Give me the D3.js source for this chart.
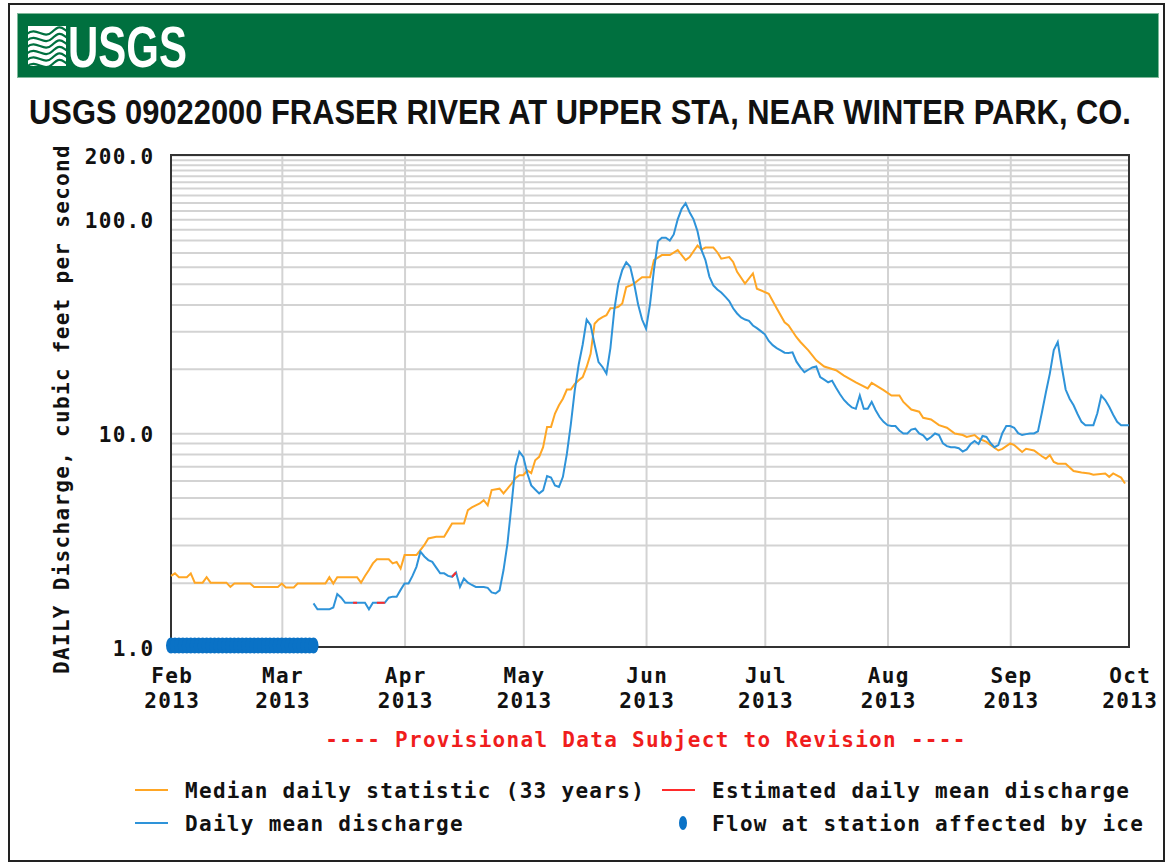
<!DOCTYPE html>
<html><head><meta charset="utf-8">
<script src="https://cdn.jsdelivr.net/npm/d3@7"></script>
<style>
html,body{margin:0;padding:0;background:#fff;}
svg{display:block;}
.mono{font-family:"DejaVu Sans Mono","Liberation Mono",monospace;font-weight:bold;font-size:21px;letter-spacing:1.3px;}
</style></head><body>
<svg id="chart" width="1166" height="865"></svg>
<script>
// ---------------- DATA ----------------
const titleText = "USGS 09022000 FRASER RIVER AT UPPER STA, NEAR WINTER PARK, CO.";
const yAxisTitle = "DAILY Discharge, cubic feet per second";
const provisionalText = "---- Provisional Data Subject to Revision ----";
const yTickValues = [1, 10, 100, 200];
const yGridValues = [2,3,4,5,6,7,8,9,10,20,30,40,50,60,70,80,90,100,110,120,130,140,150,160,170,180,190,200];
const monthTicks = ["2013-02-01","2013-03-01","2013-04-01","2013-05-01","2013-06-01","2013-07-01","2013-08-01","2013-09-01","2013-10-01"];
const monthNames = ["Feb","Mar","Apr","May","Jun","Jul","Aug","Sep","Oct"];
const tickYear = "2013";

// Median daily statistic (33 years)
const medianDaily = [
["2013-02-01",2.15],["2013-02-02",2.21],["2013-02-03",2.12],["2013-02-05",2.12],["2013-02-06",2.21],
["2013-02-07",2.0],["2013-02-09",2.0],["2013-02-10",2.12],["2013-02-11",2.0],["2013-02-15",2.0],
["2013-02-16",1.91],["2013-02-17",1.98],["2013-02-21",1.98],["2013-02-22",1.91],["2013-02-28",1.91],
["2013-03-01",1.98],["2013-03-02",1.90],["2013-03-04",1.90],["2013-03-05",1.98],["2013-03-12",1.98],
["2013-03-13",2.12],["2013-03-14",1.98],["2013-03-15",2.12],["2013-03-20",2.12],["2013-03-21",2.0],
["2013-03-22",2.15],["2013-03-23",2.29],["2013-03-24",2.46],["2013-03-25",2.57],["2013-03-28",2.57],
["2013-03-29",2.46],["2013-03-30",2.5],["2013-03-31",2.33],["2013-04-01",2.69],["2013-04-04",2.69],
["2013-04-05",2.84],["2013-04-06",3.0],["2013-04-07",3.22],["2013-04-09",3.28],["2013-04-11",3.28],
["2013-04-12",3.52],["2013-04-13",3.78],["2013-04-16",3.78],["2013-04-17",4.37],["2013-04-18",4.5],
["2013-04-20",4.69],["2013-04-21",4.86],["2013-04-22",4.6],["2013-04-23",5.42],["2013-04-25",5.5],
["2013-04-26",5.23],["2013-04-27",5.5],["2013-04-28",5.8],["2013-04-29",6.15],["2013-04-30",6.36],
["2013-05-01",6.36],["2013-05-02",6.7],["2013-05-03",6.5],["2013-05-04",7.47],["2013-05-05",7.75],
["2013-05-06",8.6],["2013-05-07",10.7],["2013-05-08",10.7],["2013-05-09",12.35],["2013-05-10",13.5],
["2013-05-11",14.5],["2013-05-12",16.0],["2013-05-13",16.0],["2013-05-14",17.0],["2013-05-15",17.7],
["2013-05-16",18.3],["2013-05-17",20.4],["2013-05-18",23.5],["2013-05-19",32.5],["2013-05-20",34.0],
["2013-05-21",34.9],["2013-05-22",35.6],["2013-05-23",38.4],["2013-05-24",38.5],["2013-05-25",39.0],
["2013-05-26",40.4],["2013-05-27",48.3],["2013-05-28",49.0],["2013-05-29",50.1],["2013-05-30",51.9],
["2013-05-31",53.6],["2013-06-02",53.6],["2013-06-03",64.5],["2013-06-05",68.1],["2013-06-07",68.1],
["2013-06-09",71.8],["2013-06-11",64.5],["2013-06-12",66.6],["2013-06-14",75.5],["2013-06-15",72.2],
["2013-06-16",73.8],["2013-06-18",73.8],["2013-06-19",70.2],["2013-06-20",65.5],["2013-06-22",66.6],
["2013-06-23",63.2],["2013-06-24",56.8],["2013-06-26",50.1],["2013-06-28",55.9],["2013-06-29",47.4],
["2013-07-02",44.9],["2013-07-04",38.4],["2013-07-06",33.0],["2013-07-07",31.9],["2013-07-09",28.1],
["2013-07-10",26.7],["2013-07-12",24.4],["2013-07-14",21.9],["2013-07-16",20.5],["2013-07-19",19.7],
["2013-07-21",18.6],["2013-07-24",17.3],["2013-07-27",16.2],["2013-07-28",17.2],["2013-07-31",15.9],
["2013-08-02",15.0],["2013-08-04",15.0],["2013-08-05",14.0],["2013-08-07",12.9],["2013-08-09",12.6],
["2013-08-10",11.8],["2013-08-12",11.6],["2013-08-14",10.9],["2013-08-16",10.6],["2013-08-18",9.97],
["2013-08-20",9.8],["2013-08-21",9.6],["2013-08-23",9.8],["2013-08-24",9.44],["2013-08-26",9.1],
["2013-08-27",8.8],["2013-08-29",8.3],["2013-08-30",8.45],["2013-09-01",8.96],["2013-09-02",8.8],
["2013-09-04",8.17],["2013-09-05",8.45],["2013-09-07",8.3],["2013-09-09",7.8],["2013-09-10",7.6],
["2013-09-11",7.9],["2013-09-12",7.34],["2013-09-13",7.2],["2013-09-15",7.2],["2013-09-17",6.65],
["2013-09-19",6.55],["2013-09-21",6.48],["2013-09-22",6.4],["2013-09-25",6.48],["2013-09-26",6.25],
["2013-09-27",6.48],["2013-09-29",6.2],["2013-09-30",5.82]
];

// Daily mean discharge
const dailyMean = [
["2013-03-09",1.60],["2013-03-10",1.50],["2013-03-11",1.50],["2013-03-12",1.50],["2013-03-13",1.50],
["2013-03-14",1.53],["2013-03-15",1.77],["2013-03-16",1.70],["2013-03-17",1.61],["2013-03-18",1.61],
["2013-03-19",1.61],["2013-03-20",1.61],["2013-03-21",1.61],["2013-03-22",1.61],["2013-03-23",1.50],
["2013-03-24",1.61],["2013-03-25",1.61],["2013-03-26",1.61],["2013-03-27",1.61],["2013-03-28",1.70],
["2013-03-29",1.72],["2013-03-30",1.72],["2013-03-31",1.85],["2013-04-01",1.98],["2013-04-02",1.98],
["2013-04-03",2.15],["2013-04-04",2.37],["2013-04-05",2.79],["2013-04-06",2.65],["2013-04-07",2.55],
["2013-04-08",2.50],["2013-04-09",2.35],["2013-04-10",2.21],["2013-04-11",2.21],["2013-04-12",2.15],
["2013-04-13",2.13],["2013-04-14",2.23],["2013-04-15",1.91],["2013-04-16",2.09],["2013-04-17",2.00],
["2013-04-18",1.95],["2013-04-19",1.91],["2013-04-20",1.91],["2013-04-21",1.91],["2013-04-22",1.89],
["2013-04-23",1.80],["2013-04-24",1.78],["2013-04-25",1.84],["2013-04-26",2.29],["2013-04-27",3.05],
["2013-04-28",4.6],["2013-04-29",7.0],["2013-04-30",8.2],["2013-05-01",7.75],["2013-05-02",6.5],
["2013-05-03",5.7],["2013-05-04",5.45],["2013-05-05",5.23],["2013-05-06",5.4],["2013-05-07",6.3],
["2013-05-08",6.2],["2013-05-09",5.7],["2013-05-10",5.6],["2013-05-11",6.25],["2013-05-12",8.0],
["2013-05-13",11.0],["2013-05-14",15.9],["2013-05-15",21.0],["2013-05-16",26.0],["2013-05-17",34.0],
["2013-05-18",32.0],["2013-05-19",26.0],["2013-05-20",21.5],["2013-05-21",20.4],["2013-05-22",19.0],
["2013-05-23",25.0],["2013-05-24",38.0],["2013-05-25",50.0],["2013-05-26",58.0],["2013-05-27",63.0],
["2013-05-28",60.0],["2013-05-29",50.0],["2013-05-30",40.0],["2013-05-31",34.0],["2013-06-01",30.8],
["2013-06-02",40.0],["2013-06-03",58.0],["2013-06-04",79.0],["2013-06-05",82.0],["2013-06-06",82.0],
["2013-06-07",79.6],["2013-06-08",85.0],["2013-06-09",100.0],["2013-06-10",112.0],["2013-06-11",119.0],
["2013-06-12",108.0],["2013-06-13",100.0],["2013-06-14",88.0],["2013-06-15",72.0],["2013-06-16",64.5],
["2013-06-17",54.0],["2013-06-18",49.1],["2013-06-19",47.0],["2013-06-20",45.5],["2013-06-21",43.5],
["2013-06-22",41.5],["2013-06-23",38.4],["2013-06-24",36.3],["2013-06-25",34.8],["2013-06-26",34.0],
["2013-06-27",33.5],["2013-06-28",31.9],["2013-06-29",31.0],["2013-06-30",30.0],["2013-07-01",29.0],
["2013-07-02",27.0],["2013-07-03",25.8],["2013-07-04",25.0],["2013-07-05",24.4],["2013-07-06",23.8],
["2013-07-07",23.7],["2013-07-08",23.9],["2013-07-09",21.6],["2013-07-10",20.3],["2013-07-11",19.3],
["2013-07-12",19.8],["2013-07-13",20.3],["2013-07-14",20.5],["2013-07-15",18.3],["2013-07-16",17.8],
["2013-07-17",17.3],["2013-07-18",17.6],["2013-07-19",16.3],["2013-07-20",15.2],["2013-07-21",14.3],
["2013-07-22",13.7],["2013-07-23",13.2],["2013-07-24",13.0],["2013-07-25",15.0],["2013-07-26",13.0],
["2013-07-27",13.0],["2013-07-28",14.0],["2013-07-29",12.8],["2013-07-30",11.9],["2013-07-31",11.3],
["2013-08-01",10.9],["2013-08-02",10.8],["2013-08-03",10.8],["2013-08-04",10.3],["2013-08-05",9.97],
["2013-08-06",9.97],["2013-08-07",10.4],["2013-08-08",10.5],["2013-08-09",9.97],["2013-08-10",9.77],
["2013-08-11",9.3],["2013-08-12",9.6],["2013-08-13",9.97],["2013-08-14",9.8],["2013-08-15",8.96],
["2013-08-16",8.7],["2013-08-17",8.6],["2013-08-18",8.6],["2013-08-19",8.5],["2013-08-20",8.2],
["2013-08-21",8.4],["2013-08-22",8.9],["2013-08-23",9.2],["2013-08-24",8.9],["2013-08-25",9.7],
["2013-08-26",9.6],["2013-08-27",9.0],["2013-08-28",8.6],["2013-08-29",8.8],["2013-08-30",10.0],
["2013-08-31",10.8],["2013-09-01",10.8],["2013-09-02",10.6],["2013-09-03",10.0],["2013-09-04",9.8],
["2013-09-05",9.9],["2013-09-06",9.97],["2013-09-07",9.97],["2013-09-08",10.2],["2013-09-09",12.5],
["2013-09-10",15.5],["2013-09-11",19.0],["2013-09-12",24.5],["2013-09-13",26.7],["2013-09-14",20.5],
["2013-09-15",16.0],["2013-09-16",14.5],["2013-09-17",13.5],["2013-09-18",12.3],["2013-09-19",11.3],
["2013-09-20",10.9],["2013-09-21",10.9],["2013-09-22",10.9],["2013-09-23",12.4],["2013-09-24",15.0],
["2013-09-25",14.3],["2013-09-26",13.3],["2013-09-27",12.2],["2013-09-28",11.3],["2013-09-29",10.9],
["2013-09-30",10.9],["2013-10-01",10.9]
];

// Estimated daily mean discharge (date ranges within the daily series)
const estimatedRanges = [["2013-03-19","2013-03-20"],["2013-03-25","2013-03-27"],["2013-04-13","2013-04-14"]];
// Flow at station affected by ice (first day, day after last)
const iceRange = ["2013-02-01","2013-03-10"];
const iceValue = 1.0;

const legendRows = [
  {label:"Median daily statistic (33 years)", color:"#ffa624", type:"line", col:0, row:0},
  {label:"Estimated daily mean discharge", color:"#ff2b2b", type:"line", col:1, row:0},
  {label:"Daily mean discharge", color:"#2e93d9", type:"line", col:0, row:1},
  {label:"Flow at station affected by ice", color:"#0a72c6", type:"dot", col:1, row:1}
];

// ---------------- DRAW ----------------
const parse = d3.utcParse("%Y-%m-%d");
const svg = d3.select("#chart");
const L = 171, R = 1129, T = 155, B = 647;
const x = d3.scaleUtc().domain([parse(monthTicks[0]), parse(monthTicks[monthTicks.length-1])]).range([L, R]);
const y = d3.scaleLog().domain([1, 200]).range([B, T]);
const colMedian = legendRows[0].color, colEst = legendRows[1].color, colDaily = legendRows[2].color, colIce = legendRows[3].color;

svg.append("rect").attr("width",1166).attr("height",865).attr("fill","#fff");
// outer frame
svg.append("rect").attr("x",9).attr("y",4).attr("width",1155).attr("height",857)
  .attr("fill","none").attr("stroke","#222").attr("stroke-width",2);

// banner
svg.append("rect").attr("x",17.5).attr("y",13.5).attr("width",1141).attr("height",64)
  .attr("fill","#00703f").attr("stroke","#7fb89a").attr("stroke-width",1);
// logo wave mark
const logo = svg.append("g");
logo.append("path").attr("d","M28,26 L66,26 L66,66 L28,66 Z").attr("fill","#fff");
[0,1,2,3,4,5].forEach(i=>{
  const yy = 30 + i*6.5;
  logo.append("path")
    .attr("d",`M27,${yy+4} C36,${yy-4} 44,${yy+10} 52,${yy+2} S62,${yy-2} 67,${yy+1}`)
    .attr("fill","none").attr("stroke","#00703f").attr("stroke-width",2.2);
});
function fitText(sel, width, x0, y0){
  const w = sel.node().getComputedTextLength();
  sel.attr("x",0).attr("y",0).attr("transform",`translate(${x0},${y0}) scale(${width/w},1)`);
}
const logoText = svg.append("text")
  .attr("font-family","'Liberation Sans Narrow','Arial Narrow','Liberation Sans',sans-serif")
  .attr("font-weight","bold").attr("font-size",58).attr("fill","#fff").text("USGS");
fitText(logoText, 119, 68, 67);

// title
const title = svg.append("text")
  .attr("font-family","'Liberation Sans Narrow','Arial Narrow','Liberation Sans',sans-serif")
  .attr("font-weight","bold").attr("font-size",35).attr("fill","#111").text(titleText);
fitText(title, 1102, 29, 124);

// grid lines
const gy = svg.append("g").attr("transform",`translate(${L},0)`)
  .call(d3.axisLeft(y).tickValues(yGridValues).tickSize(-(R-L)).tickFormat(""));
gy.select(".domain").remove();
gy.selectAll(".tick line").attr("stroke","#d3d3d3").attr("stroke-width",2);

const gx = svg.append("g").attr("transform",`translate(0,${B})`)
  .call(d3.axisBottom(x).tickValues(monthTicks.slice(1,-1).map(parse)).tickSize(-(B-T)).tickFormat(""));
gx.select(".domain").remove();
gx.selectAll(".tick line").attr("stroke","#d3d3d3").attr("stroke-width",2);

// plot frame
svg.append("rect").attr("x",L).attr("y",T).attr("width",R-L).attr("height",B-T)
  .attr("fill","none").attr("stroke","#333").attr("stroke-width",2);

// y axis labels
const ya = svg.append("g").attr("transform",`translate(${L},0)`)
  .call(d3.axisLeft(y).tickValues(yTickValues).tickFormat(d3.format(".1f")).tickSize(0));
ya.select(".domain").remove();
ya.selectAll(".tick text").attr("class","mono").attr("fill","#111")
  .attr("x",-16.5).attr("dy",null).attr("y",8).attr("font-size",null).attr("font-family",null);

// x axis labels
const xa = svg.append("g").attr("transform",`translate(0,${B})`)
  .call(d3.axisBottom(x).tickValues(monthTicks.map(parse)).tickFormat("").tickSize(0));
xa.select(".domain").remove();
xa.selectAll(".tick text").each(function(d,i){
  const t = d3.select(this).attr("class","mono").attr("fill","#111").attr("y",null).attr("dy",null)
    .attr("font-size",null).attr("font-family",null);
  t.append("tspan").attr("x",0.7).attr("y",36).text(monthNames[i]);
  t.append("tspan").attr("x",0.7).attr("y",61).text(tickYear);
});

// y axis title
svg.append("text").attr("class","mono").attr("fill","#111")
  .attr("text-anchor","middle")
  .attr("transform","translate(68.5,409) rotate(-90)").text(yAxisTitle);

// median line
const line = d3.line().x(d=>x(parse(d[0]))).y(d=>y(d[1]));
svg.append("path").datum(medianDaily).attr("d",line)
  .attr("fill","none").attr("stroke",colMedian).attr("stroke-width",2);
// daily mean line
svg.append("path").datum(dailyMean).attr("d",line)
  .attr("fill","none").attr("stroke",colDaily).attr("stroke-width",2);
// estimated segments
estimatedRanges.forEach(([a,b])=>{
  const seg = dailyMean.filter(d=>d[0]>=a && d[0]<=b);
  svg.append("path").datum(seg).attr("d",line)
    .attr("fill","none").attr("stroke",colEst).attr("stroke-width",2);
});
// ice markers
const iceDays = d3.utcDay.range(parse(iceRange[0]), parse(iceRange[1]));
svg.append("g").selectAll("ellipse").data(iceDays).join("ellipse")
  .attr("cx",d=>x(d)).attr("cy",y(iceValue)-1.5).attr("rx",5).attr("ry",8).attr("fill",colIce);

// provisional text
svg.append("text").attr("class","mono").attr("fill","#f01d1d").attr("text-anchor","middle")
  .attr("x",646).attr("y",747).text(provisionalText);

// legend
const legX = [135, 662], legY = [790, 823];
legendRows.forEach(r=>{
  const lx = legX[r.col], ly = legY[r.row];
  if (r.type==="line") {
    svg.append("line").attr("x1",lx).attr("x2",lx+33).attr("y1",ly).attr("y2",ly)
      .attr("stroke",r.color).attr("stroke-width",2);
  } else {
    svg.append("ellipse").attr("cx",lx+21).attr("cy",ly).attr("rx",4).attr("ry",7).attr("fill",r.color);
  }
  svg.append("text").attr("class","mono").attr("fill","#111")
    .attr("x",lx+50).attr("y",ly+8).text(r.label);
});
</script>
</body></html>
